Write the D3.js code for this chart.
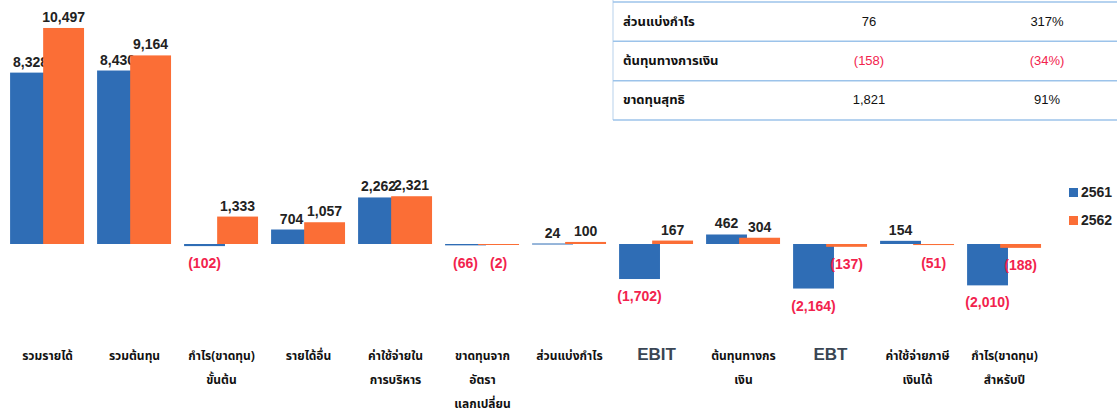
<!DOCTYPE html>
<html>
<head>
<meta charset="utf-8">
<script src="https://cdn.jsdelivr.net/npm/d3@7"></script>
<style>
  body { margin: 0; background: #fff; }
  svg { display: block; }
</style>
</head>
<body>
<svg id="chart" width="1117" height="417"></svg>
<script>
const categories = [
  ["รวมรายได้"],
  ["รวมต้นทุน"],
  ["กำไร(ขาดทุน)", "ขั้นต้น"],
  ["รายได้อื่น"],
  ["ค่าใช้จ่ายใน", "การบริหาร"],
  ["ขาดทุนจาก", "อัตรา", "แลกเปลี่ยน"],
  ["ส่วนแบ่งกำไร"],
  ["EBIT"],
  ["ต้นทุนทางกร", "เงิน"],
  ["EBT"],
  ["ค่าใช้จ่ายภาษี", "เงินได้"],
  ["กำไร(ขาดทุน)", "สำหรับปี"]
];
const values2561 = [8328, 8430, -102, 704, 2262, -66, 24, -1702, 462, -2164, 154, -2010];
const values2562 = [10497, 9164, 1333, 1057, 2321, -2, 100, 167, 304, -137, -51, -188];
const seriesNames = ["2561", "2562"];

const tableRows = ["ส่วนแบ่งกำไร", "ต้นทุนทางการเงิน", "ขาดทุนสุทธิ"];
const tableChange = ["76", "(158)", "1,821"];
const tablePct = ["317%", "(34%)", "91%"];

const blue = "#2f6db5", orange = "#fb6e36", red = "#f2234d";
const thaiFont = "'Noto Sans Thai', Tahoma, 'DejaVu Sans', sans-serif";
const numFont = "'Liberation Sans', Arial, sans-serif";

const svg = d3.select("#chart");

const x = d3.scaleBand()
  .domain(d3.range(categories.length))
  .range([4, 1048]);
const bw = x.bandwidth();

const k = 0.02058;
const y = d3.scaleLinear()
  .domain([-2500, 10500])
  .range([244 + 2500 * k, 244 - 10500 * k]);

const fmt = v => {
  const s = d3.format(",")(Math.abs(v));
  return v < 0 ? "(" + s + ")" : s;
};

// bars + labels; blue labels go under orange bars like the original
const series = [
  { name: seriesNames[0], vals: values2561, color: blue, off: 0.07 },
  { name: seriesNames[1], vals: values2562, color: orange, off: 0.45 }
];
const barW = bw * 0.47;

series.forEach(s => {
  const g = svg.append("g");
  g.selectAll("rect")
    .data(s.vals)
    .enter()
    .append("rect")
    .attr("x", (d, i) => x(i) + bw * s.off)
    .attr("width", barW)
    .attr("y", d => Math.min(y(d), y(0)))
    .attr("height", d => Math.max(Math.abs(y(d) - y(0)), 1))
    .attr("fill", s.color);

  g.selectAll("text")
    .data(s.vals)
    .enter()
    .append("text")
    .attr("x", (d, i) => x(i) + bw * s.off + barW / 2)
    .attr("y", d => d >= 0 ? y(d) - 6 : Math.max(y(d), y(0) + 2) + 22)
    .attr("text-anchor", "middle")
    .attr("font-family", numFont)
    .attr("font-weight", "bold")
    .attr("font-size", 14)
    .attr("fill", d => d < 0 ? red : "#222")
    .text(d => fmt(d));
});

// category labels
const labels = svg.append("g")
  .selectAll("text")
  .data(categories)
  .enter()
  .append("text")
  .attr("x", (d, i) => x(i) + bw / 2)
  .attr("y", 360)
  .attr("text-anchor", "middle")
  .attr("font-family", d => d[0].startsWith("EB") ? numFont : thaiFont)
  .attr("font-weight", "bold")
  .attr("font-size", d => d[0].startsWith("EB") ? 17 : 12)
  .attr("fill", d => d[0].startsWith("EB") ? "#3a4654" : "#111");

labels.selectAll("tspan")
  .data(d => d)
  .enter()
  .append("tspan")
  .attr("x", function() { return d3.select(this.parentNode).attr("x"); })
  .attr("dy", (d, i) => i === 0 ? 0 : 24)
  .text(d => d);

// legend
const legend = svg.append("g")
  .selectAll("g")
  .data(series)
  .enter()
  .append("g")
  .attr("transform", (d, i) => `translate(1069,${188 + i * 28})`);
legend.append("rect")
  .attr("width", 9).attr("height", 9)
  .attr("fill", d => d.color);
legend.append("text")
  .attr("x", 12).attr("y", 9)
  .attr("font-family", numFont)
  .attr("font-weight", "bold")
  .attr("font-size", 14)
  .attr("fill", "#222")
  .text(d => d.name);

// table at top right
const tbl = svg.append("g");
const rowY = d3.scaleBand().domain(d3.range(tableRows.length)).range([2, 120]);
const lineColor = "#9cc3ea";

tbl.append("line")
  .attr("x1", 613).attr("x2", 613)
  .attr("y1", 0).attr("y2", 120)
  .attr("stroke", "#cfe0f2").attr("stroke-width", 1.5);
tbl.selectAll("line.h")
  .data(d3.range(tableRows.length + 1))
  .enter()
  .append("line")
  .attr("class", "h")
  .attr("x1", 613).attr("x2", 1117)
  .attr("y1", i => i === tableRows.length ? 120 : rowY(i))
  .attr("y2", i => i === tableRows.length ? 120 : rowY(i))
  .attr("stroke", lineColor).attr("stroke-width", 1.5);

const rows = tbl.selectAll("g.row")
  .data(tableRows)
  .enter()
  .append("g")
  .attr("transform", (d, i) => `translate(0,${rowY(i) + rowY.bandwidth() / 2 + 4})`);

rows.append("text")
  .attr("x", 623)
  .attr("font-family", thaiFont)
  .attr("font-weight", "bold")
  .attr("font-size", 13)
  .attr("fill", "#111")
  .text(d => d);

rows.append("text")
  .attr("x", 869)
  .attr("text-anchor", "middle")
  .attr("font-family", numFont)
  .attr("font-size", 13)
  .attr("fill", (d, i) => tableChange[i].startsWith("(") ? red : "#111")
  .text((d, i) => tableChange[i]);

rows.append("text")
  .attr("x", 1047)
  .attr("text-anchor", "middle")
  .attr("font-family", numFont)
  .attr("font-size", 13)
  .attr("fill", (d, i) => tablePct[i].startsWith("(") ? red : "#111")
  .text((d, i) => tablePct[i]);
</script>
</body>
</html>
